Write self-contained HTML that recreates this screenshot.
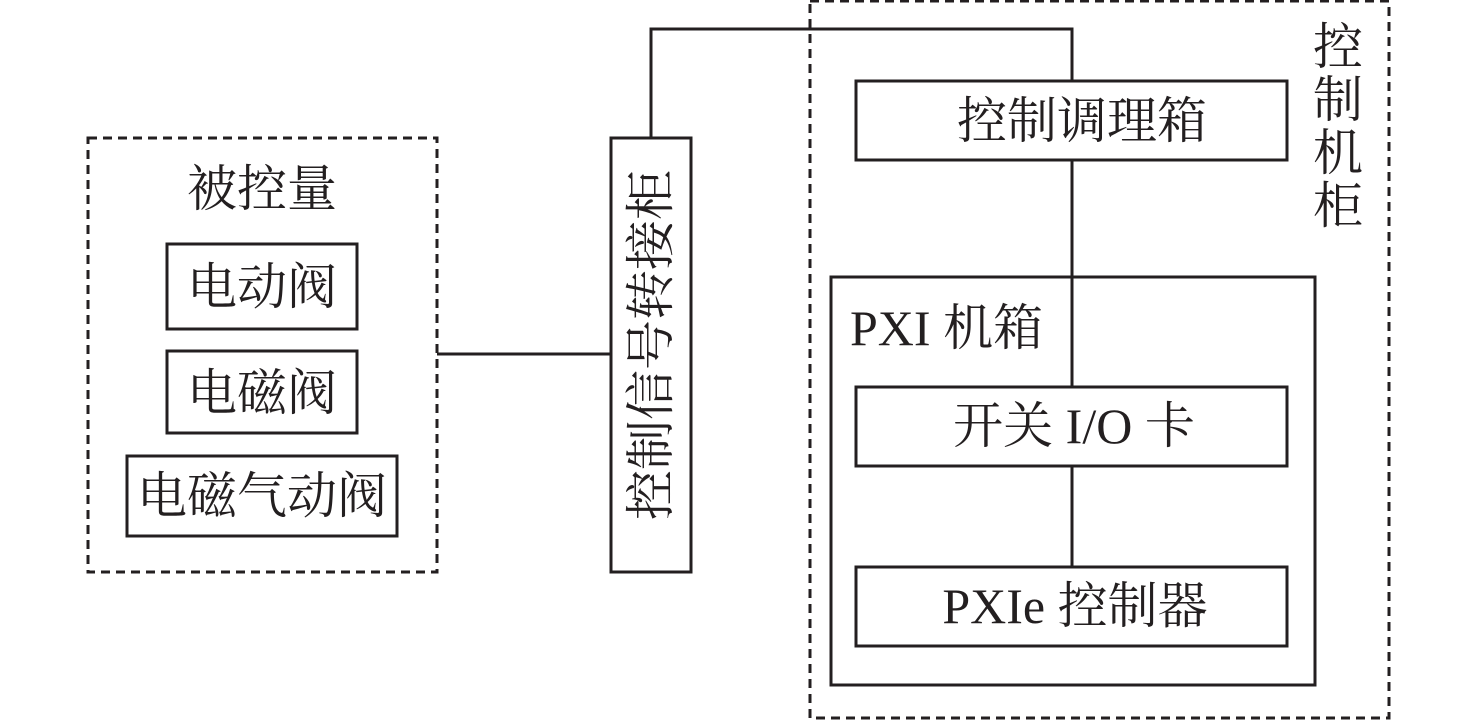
<!DOCTYPE html>
<html><head><meta charset="utf-8"><style>
html,body{margin:0;padding:0;background:#fff;}
svg{display:block;}
text{font-family:"Liberation Serif","Noto Serif CJK SC",serif;fill:#231f20;font-size:50px;}
</style></head><body>
<svg width="1476" height="720" viewBox="0 0 1476 720" xmlns="http://www.w3.org/2000/svg">
<g fill="none" stroke="#231f20" stroke-width="3">
<rect x="88" y="138" width="349" height="434" stroke-dasharray="9,6"/>
<rect x="810" y="1" width="579" height="717" stroke-dasharray="9,6"/>
<rect x="167" y="244" width="190" height="85"/>
<rect x="167" y="351" width="190" height="82"/>
<rect x="127" y="456" width="270" height="80"/>
<rect x="611" y="138" width="80" height="434"/>
<rect x="856" y="81" width="431" height="79"/>
<rect x="831" y="277" width="484" height="408"/>
<rect x="856" y="387" width="431" height="79"/>
<rect x="856" y="567" width="431" height="79"/>
<line x1="437" y1="354" x2="611" y2="354"/>
<polyline points="651,138 651,29 1072,29 1072,81"/>
<line x1="1072" y1="160" x2="1072" y2="387"/>
<line x1="1072" y1="466" x2="1072" y2="567"/>
</g>
<text x="262" y="206" text-anchor="middle">被控量</text>
<text x="262" y="304" text-anchor="middle">电动阀</text>
<text x="262" y="410" text-anchor="middle">电磁阀</text>
<text x="262" y="513" text-anchor="middle">电磁气动阀</text>
<text transform="translate(668,345) rotate(-90)" text-anchor="middle">控制信号转接柜</text>
<text x="1082" y="138" text-anchor="middle">控制调理箱</text>
<text x="850" y="345">PXI 机箱</text>
<text x="1074" y="443" text-anchor="middle">开关 I/O 卡</text>
<text x="1075" y="623" text-anchor="middle">PXIe 控制器</text>
<text x="1338" y="64" text-anchor="middle">控</text>
<text x="1338" y="117" text-anchor="middle">制</text>
<text x="1338" y="170" text-anchor="middle">机</text>
<text x="1338" y="223" text-anchor="middle">柜</text>
</svg>
</body></html>
